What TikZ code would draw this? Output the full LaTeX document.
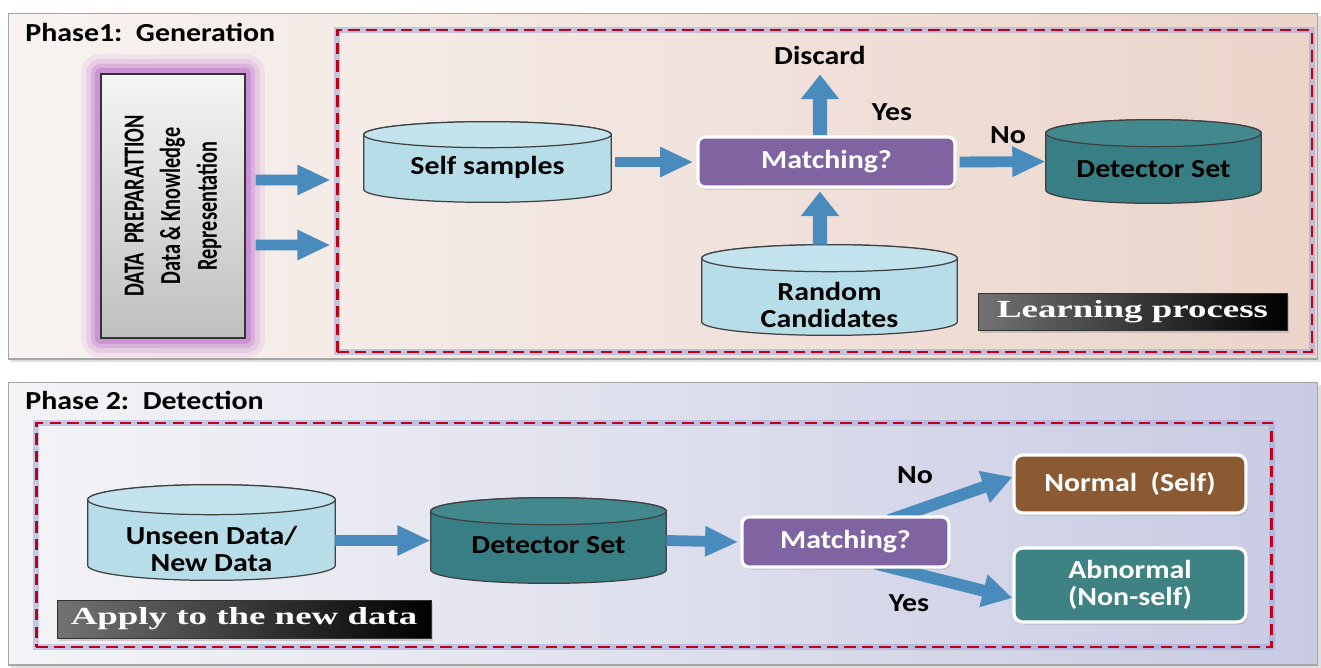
\documentclass[tikz,border=0pt]{standalone}
\usepackage{fontspec}
\usetikzlibrary{arrows.meta,calc,shadows}
\newfontfamily\cb{Carlito}[FakeStretch=1.15]
\newfontfamily\cbrot{Carlito}[FakeStretch=0.7]
\newfontfamily\serb{Liberation Serif}[FakeStretch=1.5]
\definecolor{arrowblue}{HTML}{4A8BBE}
\definecolor{cylblue}{HTML}{B7DDE8}
\definecolor{cyltop}{HTML}{C3E4EE}
\definecolor{tealbody}{HTML}{387F85}
\definecolor{tealtop}{HTML}{42888D}
\definecolor{matchpurple}{HTML}{8064A2}
\definecolor{normbrown}{HTML}{8C5A32}
\definecolor{abnteal}{HTML}{3E8283}
\definecolor{pOneL}{HTML}{F8F3F1}
\definecolor{pOneR}{HTML}{EBD4CA}
\definecolor{pTwoL}{HTML}{F4F4F7}
\definecolor{pTwoR}{HTML}{C8CBE3}
\definecolor{dashred}{HTML}{C0001A}
\definecolor{dashglow}{HTML}{9FA6D8}
\definecolor{glowpurple}{HTML}{B565C8}
\pgfdeclarelayer{panel}
\pgfdeclarelayer{shapes}
\pgfdeclarelayer{arrows}
\pgfsetlayers{panel,shapes,arrows,main}
\newcommand\cylshape[4]{% node, body colour, top colour, ry
  \begin{pgfonlayer}{shapes}
  \draw[cylline, fill=#2] let \p1=(#1.north west), \p2=(#1.south east), \n1={(\x2-\x1)/2} in
    (\x1,\y1-#4) -- (\x1,\y2+#4) arc[start angle=180,end angle=360,x radius=\n1,y radius=#4]
    -- (\x2,\y1-#4) arc[start angle=0,end angle=180,x radius=\n1,y radius=#4] -- cycle;
  \draw[cylline, fill=#3] let \p1=(#1.north west), \p2=(#1.south east), \n1={(\x2-\x1)/2} in
    ({(\x1+\x2)/2},\y1-#4) ellipse[x radius=\n1, y radius=#4];
  \end{pgfonlayer}}
\newcommand\cylshadow[2]{% node, ry
  \begin{pgfonlayer}{shapes}
  \fill[black!45, opacity=0.35, shift={(-0.22cm,-0.16cm)}] let \p1=(#1.north west), \p2=(#1.south east), \n1={(\x2-\x1)/2} in
    (\x1,\y1-#2) -- (\x1,\y2+#2) arc[start angle=180,end angle=360,x radius=\n1,y radius=#2]
    -- (\x2,\y1-#2) arc[start angle=0,end angle=180,x radius=\n1,y radius=#2] -- cycle;
  \end{pgfonlayer}}
\begin{document}
\begin{tikzpicture}[x=0.02cm,y=0.02cm,
  txt/.style={font=\fontsize{14.8}{15.2}\selectfont\cb\bfseries, align=center, inner sep=0pt},
  panelbox/.style={draw=black!35, line width=0.6pt, inner sep=0pt, shading angle=90,
    drop shadow={opacity=0.25, shadow xshift=1.5pt, shadow yshift=-1.5pt}},
  dashbox/.style={draw=dashred, line width=1.6pt, dash pattern=on 6.5pt off 3.5pt, inner sep=0pt,
    preaction={draw=dashglow, solid, line width=3.4pt, opacity=0.55}},
  cylbox/.style={inner sep=0pt},
  cylline/.style={draw=black!75, line width=0.7pt},
  matchbox/.style={txt, text=white, fill=matchpurple, draw=white, line width=1.8pt, rounded corners=4pt,
    drop shadow={opacity=0.3, shadow xshift=1pt, shadow yshift=-1.5pt}},
  resbox/.style={txt, text=white, draw=white, line width=1.8pt, rounded corners=5pt,
    drop shadow={opacity=0.3, shadow xshift=1pt, shadow yshift=-1.5pt}},
  tagbox/.style={font=\fontsize{14}{15}\selectfont\serb\bfseries, text=white, inner sep=0pt,
    left color=black!55, right color=black, draw=black!80, line width=0.4pt,
    drop shadow={opacity=0.3, shadow xshift=1pt, shadow yshift=-1.5pt}},
  harrow/.style={draw=arrowblue, line width=6.2pt, -{Triangle[length=19pt,width=16pt]}},
  varrow/.style={draw=arrowblue, line width=8pt, -{Triangle[length=14pt,width=21pt]}},
  darrow/.style={draw=arrowblue, line width=6.8pt, -{Triangle[length=17pt,width=18pt]}}
]
\useasboundingbox (0,0) rectangle (1321,-667);
\begin{pgfonlayer}{panel}
  \fill[white] (0,0) rectangle (1321,-667);
  \node[panelbox, left color=pOneL, right color=pOneR, minimum width=26.2cm, minimum height=6.92cm] (P1) at (663,-186) {};
  \node[panelbox, left color=pTwoL, right color=pTwoR, minimum width=26.2cm, minimum height=5.66cm] (P2) at (663,-523.5) {};
  \node[dashbox, minimum width=19.5cm, minimum height=6.44cm] (lp) at (824.5,-191) {};
  \node[dashbox, minimum width=24.72cm, minimum height=4.48cm] (ap) at (654,-535) {};
\end{pgfonlayer}

% phase labels
\node[txt, anchor=west] (ph1) at (25,-32) {Phase1:~~Generation};
\node[txt, anchor=west] (ph2) at (25,-400) {Phase 2:~~Detection};

% data preparation box
\node[inner sep=0pt, minimum width=2.88cm, minimum height=5.28cm, top color=white!96!black,
  bottom color=black!25, draw=black!80, line width=0.8pt] (dp) at (173,-206) {};
\begin{pgfonlayer}{shapes}
  \foreach \w/\o in {22/0.10,16/0.16,11/0.25,6/0.4}{
    \draw[draw=glowpurple, line width=\w pt, opacity=\o, line join=round] (dp.north west) rectangle (dp.south east);}
\end{pgfonlayer}
\node[rotate=90, align=center, inner sep=0pt, font=\fontsize{16.5}{20.8}\selectfont\cbrot\bfseries] (dpt) at (dp.center)
  {DATA~~PREPARATTION\\Data \& Knowledge\\Representation};

% phase 1 nodes
\node[cylbox, minimum width=4.94cm, minimum height=1.6cm] (ss) at (487.5,-162) {};
\cylshadow{ss}{0.26cm}
\cylshape{ss}{cylblue}{cyltop}{0.26cm}
\node[txt] (sst) at ($(ss.center)+(0,-0.1cm)$) {Self samples};

\node[matchbox, minimum width=5.14cm, minimum height=1cm] (m1) at (826.5,-162) {Matching?};

\node[cylbox, minimum width=4.3cm, minimum height=1.66cm] (ds1) at (1153.5,-161.5) {};
\cylshape{ds1}{tealbody}{tealtop}{0.27cm}
\node[txt] (ds1t) at ($(ds1.center)+(0,-0.16cm)$) {Detector Set};

\node[cylbox, minimum width=5.1cm, minimum height=1.8cm] (rc) at (829.5,-290) {};
\cylshadow{rc}{0.27cm}
\cylshape{rc}{cylblue}{cyltop}{0.27cm}
\node[txt] (rct) at ($(rc.center)+(0,-0.3cm)$) {Random\\Candidates};

\node[txt] (disc) at (820,-55) {Discard};
\node[txt] (yes1) at (892,-112) {Yes};
\node[txt] (no1) at (1008,-135) {No};

\node[tagbox, minimum width=6.18cm, minimum height=0.74cm] (lpl) at (1132.5,-311.5) {Learning process};

% phase 2 nodes
\node[cylbox, minimum width=4.94cm, minimum height=1.9cm] (ud) at (211.5,-532.5) {};
\cylshadow{ud}{0.3cm}
\cylshape{ud}{cylblue}{cyltop}{0.3cm}
\node[txt] (udt) at ($(ud.center)+(0,-0.33cm)$) {Unseen Data/\\New Data};

\node[cylbox, minimum width=4.7cm, minimum height=1.7cm] (ds2) at (548.5,-540.5) {};
\cylshape{ds2}{tealbody}{tealtop}{0.27cm}
\node[txt] (ds2t) at ($(ds2.center)+(0,-0.09cm)$) {Detector Set};

\node[matchbox, minimum width=4.14cm, minimum height=1cm] (m2) at (845.5,-542) {Matching?};
\node[resbox, fill=normbrown, minimum width=4.64cm, minimum height=1.16cm] (nm) at (1130,-484) {Normal~~(Self)};
\node[resbox, fill=abnteal, minimum width=4.64cm, minimum height=1.48cm] (ab) at (1130,-585) {Abnormal\\(Non-self)};
\node[txt] (no2) at (915,-475) {No};
\node[txt] (yes2) at (909,-603) {Yes};

\node[tagbox, minimum width=7.48cm, minimum height=0.76cm] (apl) at (244,-619) {Apply to the new data};

% connectors
\begin{pgfonlayer}{arrows}
  \draw[harrow] ([xshift=0.2cm,yshift=0.52cm]dp.east) -- ([xshift=-0.1cm,yshift=0.22cm]lp.west);
  \draw[harrow] ([xshift=0.2cm,yshift=-0.78cm]dp.east) -- ([xshift=-0.1cm,yshift=-1.08cm]lp.west);
  \draw[harrow] ([xshift=0.08cm]ss.east) -- ([xshift=-0.06cm]m1.west);
  \draw[harrow] ([xshift=0.06cm]m1.east) -- (ds1.west);
  \draw[varrow] ([xshift=-0.13cm]m1.north) -- ([yshift=-0.2cm]disc.south);
  \draw[varrow] ([xshift=-0.19cm]rc.north) -- ([xshift=-0.13cm,yshift=-0.06cm]m1.south);
  \draw[harrow] (ud.east |- ds2.west) -- (ds2.west);
  \draw[harrow] (ds2.east) -- ([xshift=-0.04cm]m2.west);
  \draw[darrow] ([xshift=0.86cm,yshift=-0.1cm]m2.north) -- ([yshift=0.14cm]nm.west);
  \draw[darrow] ([xshift=0.6cm,yshift=0.1cm]m2.south) -- ([yshift=-0.26cm]ab.west);
\end{pgfonlayer}
\end{tikzpicture}
\end{document}
